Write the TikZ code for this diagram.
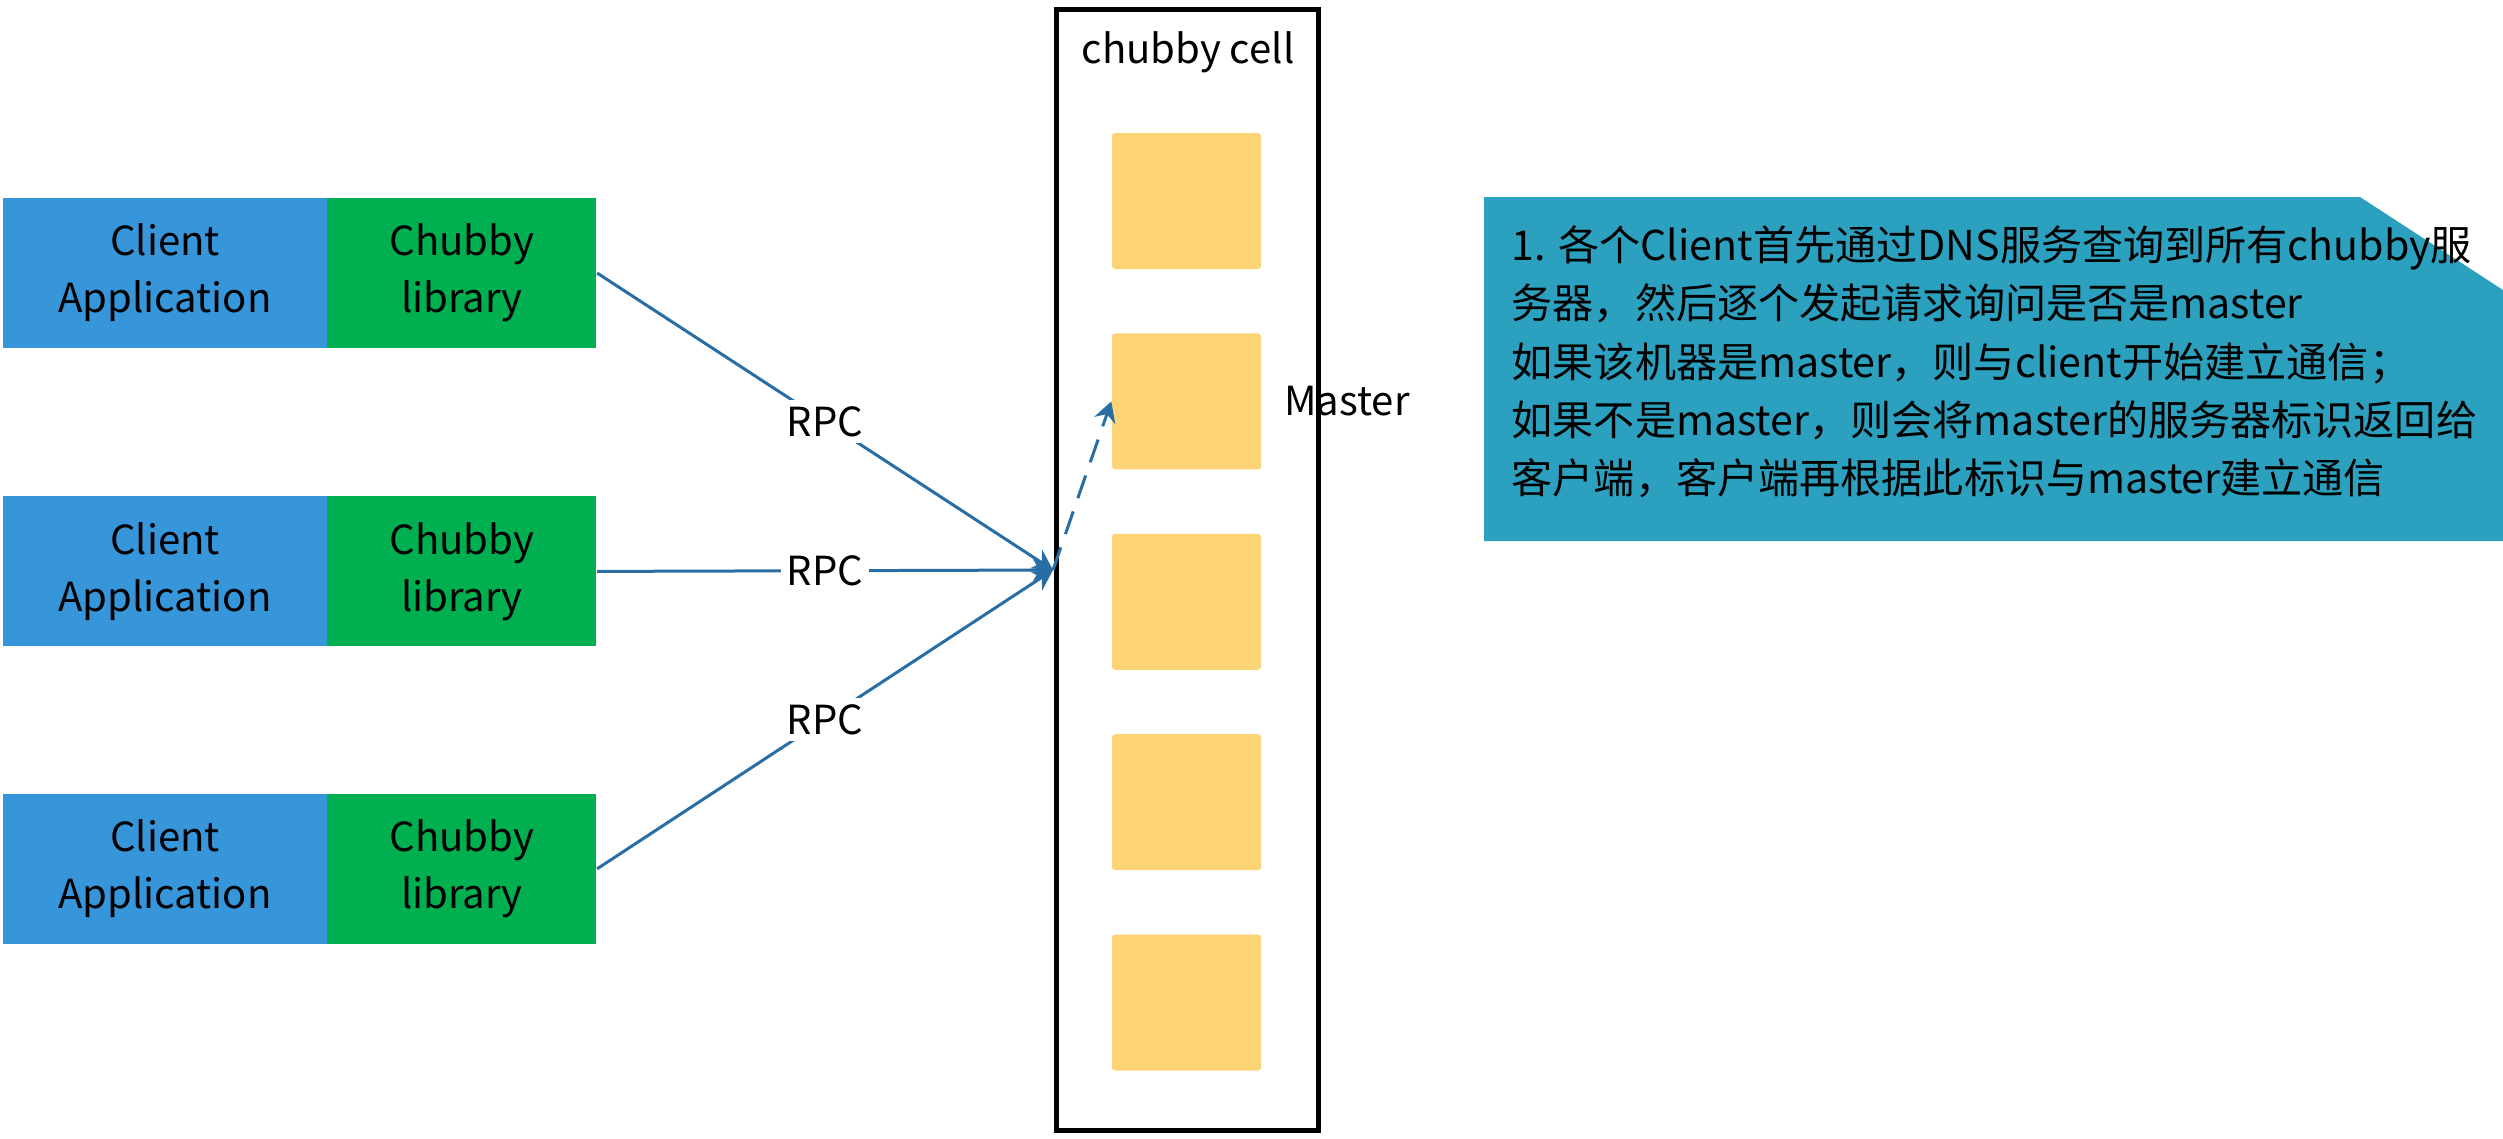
\documentclass[tikz,border=0pt]{standalone}
\usepackage{fontspec}
\setmainfont{Noto Sans CJK SC}
\usetikzlibrary{arrows.meta,positioning}
\definecolor{appblue}{RGB}{55,150,218}
\definecolor{libgreen}{RGB}{0,176,80}
\definecolor{serveryellow}{RGB}{253,212,117}
\definecolor{noteteal}{RGB}{44,161,191}
\definecolor{rpcblue}{RGB}{40,110,165}
\tikzset{%
  % Specifications for style of arrows:
   rpc/.style={
           -{Stealth[length=2mm,width=2.2mm]},
           line width=0.3mm,
           draw=rpcblue,},
   redirect/.style={
           rpc,
           dash pattern=on 2.4mm off 1.4mm},
  % Specifications for style of nodes:
   base/.style = {rectangle, draw=none, inner sep=0pt,
                  minimum height=15mm,
                  text centered, align=center,
                  font=\fontsize{11.4pt}{16.2pt}\selectfont},
   app/.style = {base, fill=appblue, minimum width=32.4mm},
   lib/.style = {base, fill=libgreen, minimum width=26.9mm},
   cell/.style = {rectangle, draw=black, line width=0.5mm,
                  minimum width=26.2mm, minimum height=112.1mm},
   server/.style = {rectangle, rounded corners=0.3mm, fill=serveryellow,
                  minimum width=14.9mm, minimum height=13.6mm},
   tag/.style = {inner sep=0.6mm, fill=white,
                  font=\fontsize{11.4pt}{13.7pt}\selectfont},
   note/.style = {inner sep=0pt, align=left,
                  font=\fontsize{11.7pt}{16.6pt}\selectfont},
}

\begin{document}
\begin{tikzpicture}[x=0.1mm, y=-0.1mm]
  \useasboundingbox (0,0) rectangle (2503,1138);

  % Specification of nodes (position, etc.)
  \node (app1_block) [app] at (165,273) {Client\\Application};
  \node (lib1_block) [lib, right=-0.1mm of app1_block] {Chubby\\library};
  \node (app2_block) [app, below=14.7mm of app1_block] {Client\\Application};
  \node (lib2_block) [lib, right=-0.1mm of app2_block] {Chubby\\library};
  \node (app3_block) [app, below=14.6mm of app2_block] {Client\\Application};
  \node (lib3_block) [lib, right=-0.1mm of app3_block] {Chubby\\library};

  \node (cell_block) [cell] at (1187.5,570) {};
  \node (cell_label) [tag, fill=none] at (1188,52) {chubby cell};
  \node (server1_block) [server] at (1186.5,201) {};
  \node (server2_block) [server, below=6.3mm of server1_block] {};
  \node (server3_block) [server, below=6.3mm of server2_block] {};
  \node (server4_block) [server, below=6.3mm of server3_block] {};
  \node (server5_block) [server, below=6.3mm of server4_block] {};
  \node (master_label) [tag, fill=none, inner sep=0pt, right=2.2mm of server2_block] {Master};

  % Specification of connectors
  \coordinate (hub) at (1053,570);
  \draw [rpc] (lib1_block.east) -- node [tag] {RPC} (hub);
  \draw [rpc] (lib2_block.east) -- node [tag] {RPC} (hub);
  \draw [rpc] (lib3_block.east) -- node [tag] {RPC} (hub);
  \draw [redirect] (hub) -- (server2_block.west);

  % Specification of the note
  \path [fill=noteteal] (1484,197) -- (2360,197) -- (2503,290)
        -- (2503,541) -- (1484,541) -- cycle;
  \node (note_text) [note, anchor=north west] at (1511,225)
        {1. 各个Client首先通过DNS服务查询到所有chubby服\\
         务器，然后逐个发起请求询问是否是master\\
         如果该机器是master，则与client开始建立通信；\\
         如果不是master，则会将master的服务器标识返回给\\
         客户端，客户端再根据此标识与master建立通信};
\end{tikzpicture}
\end{document}
